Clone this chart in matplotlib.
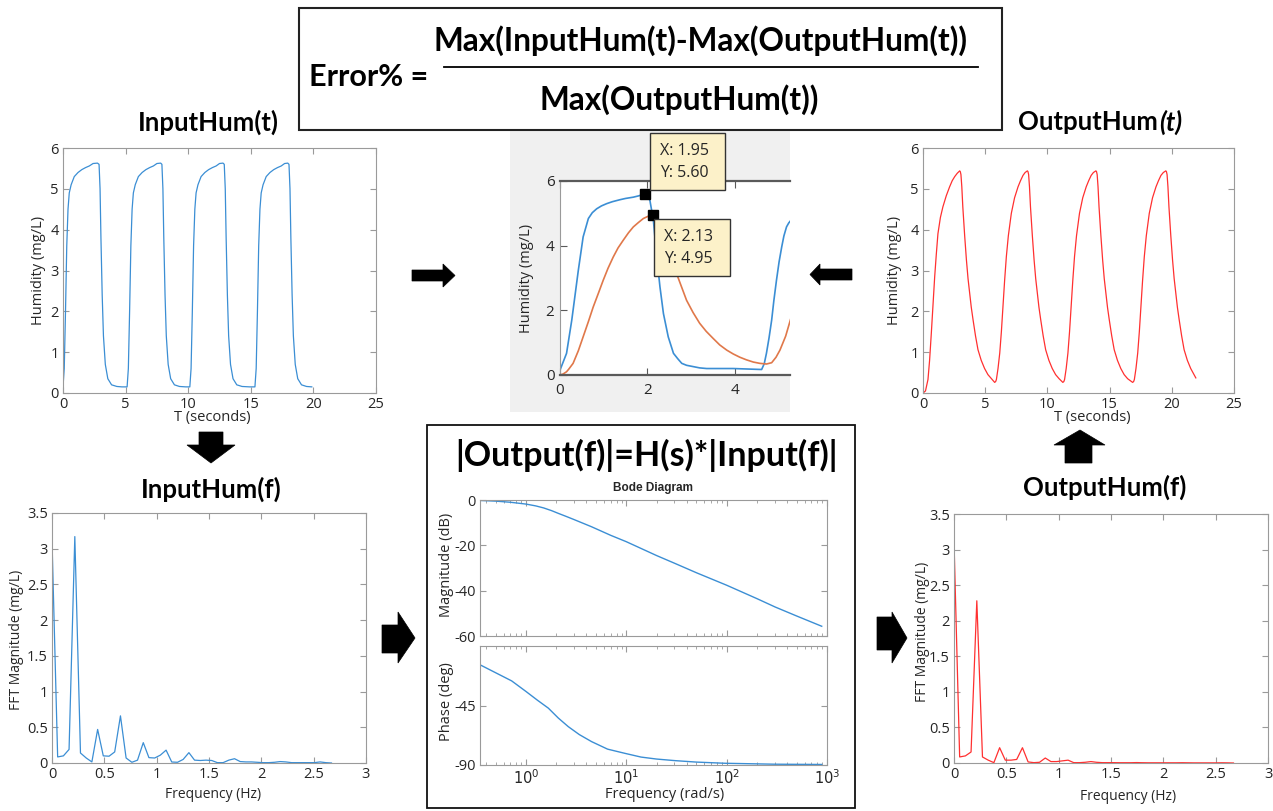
import matplotlib
matplotlib.use('Agg')
import matplotlib.pyplot as plt
from matplotlib.patches import Rectangle, Polygon
from matplotlib.ticker import FuncFormatter, LogLocator, NullFormatter

# ---------------- data ----------------
# Input humidity (top-left), seconds / mg/L
t_in = [0, 0.1, 0.2, 0.3, 0.4, 0.5, 0.65, 0.9, 1.2, 1.5, 1.8, 2.1, 2.4, 2.75, 2.88, 2.96, 3.03, 3.13, 3.23, 3.38, 3.58, 3.88, 4.3, 4.7,
        5.12, 5.22, 5.32, 5.42, 5.52, 5.62, 5.77, 6.02, 6.32, 6.62, 6.92, 7.22, 7.5, 7.8, 7.9, 7.98, 8.05, 8.15, 8.25, 8.4, 8.6, 8.9, 9.3, 9.8,
        10.13, 10.23, 10.33, 10.43, 10.53, 10.63, 10.78, 11.03, 11.33, 11.63, 11.93, 12.23, 12.5, 12.78, 12.88, 12.96, 13.03, 13.13, 13.23, 13.38, 13.58, 13.88, 14.3, 14.9,
        15.33, 15.43, 15.53, 15.63, 15.73, 15.83, 15.98, 16.23, 16.53, 16.83, 17.13, 17.43, 17.7, 17.95, 18.05, 18.13, 18.2, 18.3, 18.4, 18.55, 18.75, 19.05, 19.45, 19.87]
h_in = [0.15, 0.6, 2.0, 3.6, 4.5, 4.9, 5.1, 5.3, 5.4, 5.47, 5.52, 5.56, 5.62, 5.63, 5.6, 5.0, 3.8, 2.4, 1.4, 0.7, 0.35, 0.2, 0.16, 0.15,
        0.15, 0.6, 2.0, 3.6, 4.5, 4.9, 5.1, 5.3, 5.4, 5.47, 5.52, 5.56, 5.62, 5.63, 5.6, 5.0, 3.8, 2.4, 1.4, 0.7, 0.35, 0.2, 0.16, 0.15,
        0.15, 0.6, 2.0, 3.6, 4.5, 4.9, 5.1, 5.3, 5.4, 5.47, 5.52, 5.56, 5.62, 5.63, 5.6, 5.0, 3.8, 2.4, 1.4, 0.7, 0.35, 0.2, 0.16, 0.15,
        0.15, 0.6, 2.0, 3.6, 4.5, 4.9, 5.1, 5.3, 5.4, 5.47, 5.52, 5.56, 5.62, 5.63, 5.6, 5.0, 3.8, 2.4, 1.4, 0.7, 0.35, 0.2, 0.16, 0.15]

# Output humidity (top-right)
t_out = [0, 0.2, 0.4, 0.53, 0.67, 0.8, 0.94, 1.07, 1.2, 1.4, 1.6, 1.87, 2.14, 2.35, 2.55, 2.75, 2.95,
         3.0, 3.05, 3.12, 3.2, 3.35, 3.49, 3.62, 3.75, 3.88, 4.02, 4.22, 4.42, 4.68, 4.95, 5.22, 5.5, 5.76,
         5.84, 5.9, 6.03, 6.17, 6.3, 6.43, 6.56, 6.7, 6.86, 7.1, 7.36, 7.64, 7.84, 8.04, 8.21, 8.39,
         8.44, 8.49, 8.56, 8.64, 8.79, 8.93, 9.06, 9.19, 9.32, 9.46, 9.66, 9.86, 10.12, 10.39, 10.66, 10.94, 11.24,
         11.32, 11.38, 11.51, 11.65, 11.78, 11.91, 12.04, 12.18, 12.34, 12.58, 12.84, 13.12, 13.32, 13.52, 13.7, 13.9,
         13.95, 14.0, 14.07, 14.15, 14.3, 14.44, 14.57, 14.7, 14.83, 14.97, 15.17, 15.37, 15.63, 15.9, 16.17, 16.45, 16.85,
         16.93, 16.99, 17.12, 17.26, 17.39, 17.52, 17.65, 17.79, 17.95, 18.19, 18.45, 18.73, 18.93, 19.13, 19.32, 19.52,
         19.57, 19.62, 19.69, 19.77, 19.92, 20.06, 20.19, 20.32, 20.45, 20.59, 20.79, 20.99, 21.25, 21.52, 21.75, 21.93]
h_out = [0, 0.05, 0.33, 0.8, 1.47, 2.15, 2.85, 3.4, 3.9, 4.3, 4.56, 4.83, 5.05, 5.2, 5.3, 5.38, 5.44,
         5.42, 5.35, 5.05, 4.56, 3.85, 3.26, 2.8, 2.44, 2.1, 1.8, 1.4, 1.06, 0.8, 0.6, 0.45, 0.35, 0.26,
         0.28, 0.33, 0.6, 0.98, 1.5, 2.12, 2.75, 3.34, 3.85, 4.4, 4.78, 5.05, 5.2, 5.33, 5.4, 5.44,
         5.42, 5.35, 5.05, 4.56, 3.85, 3.26, 2.8, 2.44, 2.1, 1.8, 1.4, 1.06, 0.8, 0.6, 0.45, 0.35, 0.26,
         0.28, 0.33, 0.6, 0.98, 1.5, 2.12, 2.75, 3.34, 3.85, 4.4, 4.78, 5.05, 5.2, 5.33, 5.4, 5.44,
         5.42, 5.35, 5.05, 4.56, 3.85, 3.26, 2.8, 2.44, 2.1, 1.8, 1.4, 1.06, 0.8, 0.6, 0.45, 0.35, 0.26,
         0.28, 0.33, 0.6, 0.98, 1.5, 2.12, 2.75, 3.34, 3.85, 4.4, 4.78, 5.05, 5.2, 5.33, 5.4, 5.44,
         5.42, 5.35, 5.05, 4.56, 3.85, 3.26, 2.8, 2.44, 2.1, 1.8, 1.4, 1.06, 0.8, 0.6, 0.47, 0.37]

# Comparison (centre)
t_cmp_in = [0, 0.15, 0.27, 0.42, 0.53, 0.65, 0.74, 0.84, 0.95, 1.07, 1.2, 1.37, 1.5, 1.68, 1.8, 1.95, 2.0, 2.06, 2.14,
            2.21, 2.29, 2.37, 2.48, 2.6, 2.7, 2.79, 2.9, 3.05, 3.2, 3.36, 3.97, 4.62, 4.68, 4.73, 4.79, 4.85, 4.9,
            4.96, 5.02, 5.08, 5.13, 5.19, 5.24, 5.3]
h_cmp_in = [0.15, 0.67, 1.7, 3.24, 4.27, 4.84, 5.02, 5.14, 5.23, 5.3, 5.36, 5.42, 5.46, 5.5, 5.54, 5.6, 5.55, 5.4, 4.78,
            3.75, 2.73, 1.9, 1.18, 0.67, 0.5, 0.36, 0.3, 0.26, 0.22, 0.2, 0.2, 0.17, 0.35, 0.67, 1.15, 1.7, 2.3,
            2.93, 3.5, 3.96, 4.3, 4.58, 4.7, 4.8]
t_cmp_out = [0, 0.07, 0.15, 0.2, 0.3, 0.42, 0.53, 0.65, 0.76, 0.88, 0.99, 1.1, 1.22, 1.33, 1.45, 1.57, 1.68, 1.8, 1.91,
             2.02, 2.13, 2.3, 2.5, 2.67, 2.9, 3.05, 3.2, 3.35, 3.51, 3.66, 3.82, 3.97, 4.12, 4.27, 4.43, 4.58,
             4.73, 4.85, 4.95, 5.04, 5.17, 5.3]
h_cmp_out = [0, 0.03, 0.1, 0.18, 0.36, 0.75, 1.18, 1.65, 2.1, 2.53, 2.93, 3.3, 3.65, 3.93, 4.17, 4.4, 4.58, 4.72, 4.84,
             4.91, 4.95, 4.6, 3.9, 3.14, 2.31, 1.93, 1.6, 1.35, 1.13, 0.93, 0.77, 0.65, 0.55, 0.47, 0.4, 0.36,
             0.34, 0.38, 0.55, 0.77, 1.2, 1.8]
tip_x = [1.95, 2.13]
tip_y = [5.60, 4.95]

# FFT spectra (bottom)
freq = [0, 0.054, 0.109, 0.163, 0.218, 0.272, 0.327, 0.381, 0.436, 0.490,
        0.545, 0.599, 0.654, 0.708, 0.763, 0.817, 0.872, 0.926, 0.981, 1.035,
        1.090, 1.144, 1.199, 1.253, 1.308, 1.362, 1.417, 1.471, 1.526, 1.580,
        1.635, 1.689, 1.744, 1.798, 1.853, 1.907, 1.962, 2.016, 2.071, 2.125,
        2.180, 2.234, 2.289, 2.343, 2.398, 2.452, 2.507, 2.561, 2.616, 2.670]
fft_in = [3.12, 0.085, 0.10, 0.19, 3.17, 0.14, 0.07, 0.015, 0.47, 0.10,
          0.095, 0.155, 0.66, 0.07, 0.01, 0.04, 0.285, 0.075, 0.07, 0.11,
          0.18, 0.014, 0.01, 0.05, 0.145, 0.04, 0.035, 0.04, 0.035, 0.005,
          0.005, 0.04, 0.06, 0.02, 0.015, 0.015, 0.01, 0.005, 0.005, 0.01,
          0.02, 0.015, 0.005, 0.005, 0.005, 0.005, 0.005, 0.015, 0.005, 0.0]
fft_out = [3.12, 0.085, 0.10, 0.155, 2.28, 0.085, 0.04, 0.005, 0.215, 0.04,
           0.04, 0.05, 0.215, 0.015, 0.005, 0.01, 0.07, 0.02, 0.02, 0.03,
           0.04, 0.005, 0.005, 0.01, 0.02, 0.01, 0.005, 0.005, 0.005, 0.004,
           0.004, 0.004, 0.006, 0.004, 0.003, 0.003, 0.003, 0.003, 0.003, 0.003,
           0.004, 0.003, 0.002, 0.002, 0.002, 0.002, 0.002, 0.003, 0.002, 0.0]

# Bode diagram
w_mag = [0.35, 0.5, 0.7, 1.0, 1.25, 1.5, 1.8, 2.1, 2.5, 3.0, 4.5, 7.0, 10, 20, 30.6, 50, 100, 200, 304, 500, 886]
mag_db = [-0.2, -0.5, -1.0, -1.8, -2.6, -3.5, -4.7, -5.9, -7.2, -8.6, -11.8, -15.6, -18.4, -24.5, -28, -32.1, -37.6,
          -43.5, -47.2, -51.2, -55.7]
w_ph = [0.348, 0.72, 1.0, 1.3, 1.67, 2.1, 2.64, 3.4, 4.5, 6.5, 9.7, 14, 20, 30.6, 50, 97, 300, 886]
phase_deg = [-14.2, -26.4, -34.4, -41, -47, -54.5, -61, -67, -72.3, -78, -81.2, -84, -85.5, -86.7, -87.8, -88.7, -89.4, -89.6]

# tick values
hum_yticks = [0, 1, 2, 3, 4, 5, 6]
time_xticks = [0, 5, 10, 15, 20, 25]
cmp_xticks = [0, 2, 4]
cmp_yticks = [0, 2, 4, 6]
fft_xticks = [0, 0.5, 1, 1.5, 2, 2.5, 3]
fft_yticks = [0, 0.5, 1, 1.5, 2, 2.5, 3, 3.5]
mag_yticks = [0, -20, -40, -60]
ph_yticks = [-90, -45]
bode_xticks = [1, 10, 100, 1000]

# ---------------- figure ----------------
plt.rcParams['font.family'] = ['Open Sans', 'DejaVu Sans']
plt.rcParams['axes.unicode_minus'] = False
W, H = 1273, 811
fig = plt.figure(figsize=(W / 100, H / 100), dpi=100)
fig.patch.set_facecolor('white')

BLUE = '#3b8ed4'
RED = '#ff3030'
ORANGE = '#e0784a'
SPINE = '#9a9a9a'
TXT = '#262626'
TITLE_FONT = ['Lato', 'DejaVu Sans']


def px_axes(l, t, r, b, **kw):
    return fig.add_axes([l / W, 1 - b / H, (r - l) / W, (b - t) / H], **kw)


def to_ax(box, x, y):
    l, t, r, b = box
    return (x - l) / (r - l), (b - y) / (b - t)


def matlab_style(ax, size=10):
    for s in ax.spines.values():
        s.set_color(SPINE)
        s.set_linewidth(0.8)
    ax.tick_params(which='both', direction='in', top=True, right=True, color=SPINE,
                   labelsize=size, labelcolor=TXT, pad=3)
    ax.tick_params(which='major', length=4)
    ax.tick_params(which='minor', length=2)


def set_labels(ax, box, xl, xpos, yl, ypos, size=10):
    if xl:
        ax.set_xlabel(xl, fontsize=size, color=TXT)
        ax.xaxis.label.set_va('center')
        ax.xaxis.set_label_coords(*to_ax(box, *xpos))
    if yl:
        ax.set_ylabel(yl, fontsize=size, color=TXT)
        ax.yaxis.label.set_va('center')
        ax.yaxis.set_label_coords(*to_ax(box, *ypos))


gfmt = FuncFormatter(lambda v, p: f'{v:g}')

# background layer (pixel coordinates)
bg = px_axes(0, 0, W, H)
bg.set_xlim(0, W)
bg.set_ylim(H, 0)
bg.axis('off')

bg.add_patch(Rectangle((510, 125), 280, 287, fc='#f0f0f0', ec='none'))
bg.add_patch(Rectangle((299, 8), 703, 122, fc='white', ec='#222222', lw=1.5))
bg.plot([444, 978], [67, 67], color='black', lw=1.3)
bg.add_patch(Rectangle((427, 425), 428, 383, fc='none', ec='#111111', lw=1.3))

FS_F = 22.8
bg.text(369, 77, 'Error% =', fontsize=22, fontweight='bold', family=TITLE_FONT, ha='center', va='center')
bg.text(700, 41, 'Max(InputHum(t)-Max(OutputHum(t))', fontsize=FS_F, fontweight='bold', family=TITLE_FONT,
        ha='center', va='center')
bg.text(679, 100, 'Max(OutputHum(t))', fontsize=FS_F, fontweight='bold', family=TITLE_FONT, ha='center', va='center')

FS_T = 18.5
bg.text(208, 122, 'InputHum(t)', fontsize=FS_T, fontweight='bold', family=TITLE_FONT, ha='center', va='center')
bg.text(1158, 122, 'OutputHum', fontsize=FS_T, fontweight='bold', family=TITLE_FONT, ha='right', va='center')
bg.text(1159, 122, '(t)', fontsize=FS_T, fontweight='bold', style='italic', family=TITLE_FONT, ha='left', va='center')
bg.text(211, 489, 'InputHum(f)', fontsize=FS_T, fontweight='bold', family=TITLE_FONT, ha='center', va='center')
bg.text(1105, 487, 'OutputHum(f)', fontsize=FS_T, fontweight='bold', family=TITLE_FONT, ha='center', va='center')
bg.text(646, 455, '|Output(f)|=H(s)*|Input(f)|', fontsize=24.5, fontweight='bold', family=TITLE_FONT,
        ha='center', va='center')
bg.text(653, 488, 'Bode Diagram', fontsize=8.5, fontweight='bold', family=['Liberation Sans', 'DejaVu Sans'],
        color=TXT, ha='center', va='center')

arrows = [
    [(412, 270), (443, 270), (443, 264), (455, 275.5), (443, 287), (443, 281), (412, 281)],
    [(852, 269), (820, 269), (820, 264), (810, 274.5), (820, 285), (820, 280), (852, 280)],
    [(199, 432), (223, 432), (223, 445), (235, 445), (211, 463), (187, 445), (199, 445)],
    [(1065, 463), (1092, 463), (1092, 445), (1105, 445), (1080, 430), (1054, 445), (1065, 445)],
    [(382, 625), (398, 625), (398, 612), (415, 638), (398, 663), (398, 653), (382, 653)],
    [(877, 617), (892, 617), (892, 612), (907, 638), (892, 663), (892, 650), (877, 650)],
]
for pts in arrows:
    bg.add_patch(Polygon(pts, closed=True, fc='black', ec='black', lw=0.5))

# ---------- top-left: input ----------
b1 = (63, 148, 376, 393)
ax1 = px_axes(*b1)
ax1.plot(t_in, h_in, color=BLUE, lw=0.9)
ax1.set_xlim(0, 25)
ax1.set_ylim(0, 6)
ax1.set_xticks(time_xticks)
ax1.set_yticks(hum_yticks)
matlab_style(ax1, 10.5)
set_labels(ax1, b1, 'T (seconds)', (212, 418), 'Humidity (mg/L)', (38, 270), 10.5)

# ---------- top-right: output ----------
b2 = (923, 148, 1234, 393)
ax2 = px_axes(*b2)
ax2.plot(t_out, h_out, color=RED, lw=0.9)
ax2.set_xlim(0, 25)
ax2.set_ylim(0, 6)
ax2.set_xticks(time_xticks)
ax2.set_yticks(hum_yticks)
matlab_style(ax2, 10.5)
set_labels(ax2, b2, 'T (seconds)', (1092, 418), 'Humidity (mg/L)', (895, 270), 10.5)

# ---------- centre: comparison ----------
b3 = (560, 181, 790, 375)
ax3 = px_axes(*b3)
ax3.plot(t_cmp_in, h_cmp_in, color=BLUE, lw=1.2)
ax3.plot(t_cmp_out, h_cmp_out, color=ORANGE, lw=1.2)
ax3.plot(tip_x, tip_y, ls='none', marker='s', ms=7, mfc='black', mec='black', zorder=5)
ax3.set_xlim(0, 5.27)
ax3.set_ylim(0, 6)
ax3.set_xticks(cmp_xticks)
ax3.set_yticks(cmp_yticks)
for s in ['top', 'bottom']:
    ax3.spines[s].set_color('#5a5a5a')
    ax3.spines[s].set_linewidth(1.6)
ax3.spines['left'].set_color('#9a9a9a')
ax3.spines['left'].set_linewidth(0.8)
ax3.spines['right'].set_visible(False)
ax3.tick_params(direction='in', top=True, right=False, length=5, color='#5a5a5a', labelsize=11,
                labelcolor=TXT)
ax3.tick_params(axis='x', pad=6)
ax3.tick_params(axis='y', pad=4)
set_labels(ax3, b3, None, None, 'Humidity (mg/L)', (527, 278), 10.5)

# ---------- bottom-left: input FFT ----------
b4 = (52, 513, 366, 763)
ax4 = px_axes(*b4)
ax4.plot(freq, fft_in, color=BLUE, lw=0.9)
ax4.set_xlim(0, 3)
ax4.set_ylim(0, 3.5)
ax4.set_xticks(fft_xticks)
ax4.set_yticks(fft_yticks)
ax4.xaxis.set_major_formatter(gfmt)
ax4.yaxis.set_major_formatter(gfmt)
matlab_style(ax4, 10.5)
set_labels(ax4, b4, 'Frequency (Hz)', (213, 794), 'FFT Magnitude (mg/L)', (17, 640), 10)

# ---------- bottom-right: output FFT ----------
b5 = (954, 514, 1268, 763)
ax5 = px_axes(*b5)
ax5.plot(freq, fft_out, color=RED, lw=0.9)
ax5.set_xlim(0, 3)
ax5.set_ylim(0, 3.5)
ax5.set_xticks(fft_xticks)
ax5.set_yticks(fft_yticks)
ax5.xaxis.set_major_formatter(gfmt)
ax5.yaxis.set_major_formatter(gfmt)
matlab_style(ax5, 10.5)
set_labels(ax5, b5, 'Frequency (Hz)', (1128, 797), 'FFT Magnitude (mg/L)', (922, 632), 10)

# ---------- Bode ----------
bm = (480, 500, 827, 636)
bp = (480, 646, 827, 765)
axm = px_axes(*bm)
axp = px_axes(*bp)
axm.semilogx(w_mag, mag_db, color=BLUE, lw=1.0)
axp.semilogx(w_ph, phase_deg, color=BLUE, lw=1.0)
for a in (axm, axp):
    a.set_xlim(0.348, 1000)
    a.set_xticks(bode_xticks)
    a.xaxis.set_minor_locator(LogLocator(base=10, subs=range(2, 10), numticks=20))
    a.xaxis.set_minor_formatter(NullFormatter())
    matlab_style(a, 10.5)
axm.set_ylim(-60, 0)
axm.set_yticks(mag_yticks)
axm.tick_params(labelbottom=False)
axp.set_ylim(-90, 0)
axp.set_yticks(ph_yticks)
axp.set_xticklabels([f'$10^{{{i}}}$' for i in range(len(bode_xticks))])
set_labels(axm, bm, None, None, 'Magnitude (dB)', (447, 565), 10.5)
set_labels(axp, bp, 'Frequency (rad/s)', (665, 795), 'Phase (deg)', (447, 702), 10.5)

# ---------- data tips (foreground) ----------
fg = px_axes(0, 0, W, H)
fg.set_xlim(0, W)
fg.set_ylim(H, 0)
fg.axis('off')
fg.patch.set_alpha(0)
tip_boxes = [(650, 133, 75, 57), (654, 219, 76, 57)]
for (x0, y0, w, h), xv, yv in zip(tip_boxes, tip_x, tip_y):
    fg.add_patch(Rectangle((x0, y0), w, h, fc='#fcf1c9', ec='#333333', lw=1.0))
    fg.text(x0 + 10, y0 + 18, f'X: {xv:.2f}', fontsize=11.5, color=TXT, va='center', ha='left')
    fg.text(x0 + 10, y0 + 40, f'Y: {yv:.2f}', fontsize=11.5, color=TXT, va='center', ha='left')

fig.savefig('out.png', dpi=100, facecolor='white')
